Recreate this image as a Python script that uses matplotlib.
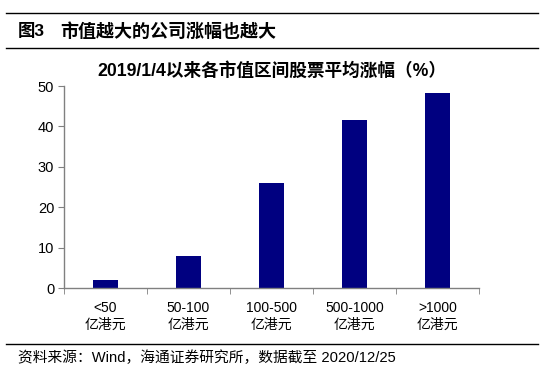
import matplotlib
matplotlib.use("Agg")
import matplotlib.pyplot as plt
from matplotlib.lines import Line2D

plt.rcParams['font.family'] = ['Noto Sans CJK SC', 'DejaVu Sans']

categories = ["<50\n亿港元", "50-100\n亿港元", "100-500\n亿港元", "500-1000\n亿港元", ">1000\n亿港元"]
values = [2.0, 7.9, 26.0, 41.6, 48.3]
yticks = [0, 10, 20, 30, 40, 50]

W, H = 544, 376
fig = plt.figure(figsize=(W/100, H/100), dpi=100)

def fx(px): return px / W
def fy(py): return 1 - py / H

# header and footer rules
fig.add_artist(Line2D([fx(6), fx(538)], [fy(13), fy(13)], color='black', lw=1.0))
fig.add_artist(Line2D([fx(6), fx(538)], [fy(48), fy(48)], color='black', lw=1.0))
fig.add_artist(Line2D([fx(6), fx(538)], [fy(344), fy(344)], color='black', lw=1.0))
fig.text(fx(18), fy(31), "图3", fontsize=12.5, fontweight='bold', va='center', ha='left', family=['Liberation Sans', 'Noto Sans CJK SC'])
fig.text(fx(60), fy(31), "市值越大的公司涨幅也越大", fontsize=13, fontweight='bold', va='center', ha='left')
fig.text(fx(272), fy(71), "2019/1/4以来各市值区间股票平均涨幅（%）", fontsize=12.7, fontweight='bold', va='center', ha='center', family=['Liberation Sans', 'Noto Sans CJK SC'])
fig.text(fx(18), fy(358), "资料来源：Wind，海通证券研究所，数据截至 2020/12/25", fontsize=10.6, va='center', ha='left', family=['Liberation Sans', 'Noto Sans CJK SC'])

ax = fig.add_axes([fx(64), fy(288), fx(479) - fx(64), fy(86) - fy(288)])
x = list(range(len(categories)))
ax.bar(x, values, width=0.31, color='#000080')
ax.set_xlim(-0.5, len(categories) - 0.5)
ax.set_ylim(0, 50)
ax.set_yticks(yticks)
ax.set_yticklabels([str(v) for v in yticks], family='Liberation Sans', fontsize=10.5)
ax.set_xticks(x)
ax.set_xticklabels(categories, fontsize=10, family=['Liberation Sans', 'Noto Sans CJK SC'], linespacing=1.3)
ax.tick_params(axis='x', length=0, pad=9)
ax.set_xticks([i - 0.5 for i in range(len(categories) + 1)], minor=True)
ax.tick_params(axis='x', which='minor', length=4, direction='out', color='#808080')
ax.tick_params(axis='y', length=4, direction='out', color='#808080', pad=3)
for s in ['top', 'right']:
    ax.spines[s].set_visible(False)
for s in ['left', 'bottom']:
    ax.spines[s].set_color('#808080')
    ax.spines[s].set_linewidth(1.0)

fig.savefig("out.png", dpi=100)
